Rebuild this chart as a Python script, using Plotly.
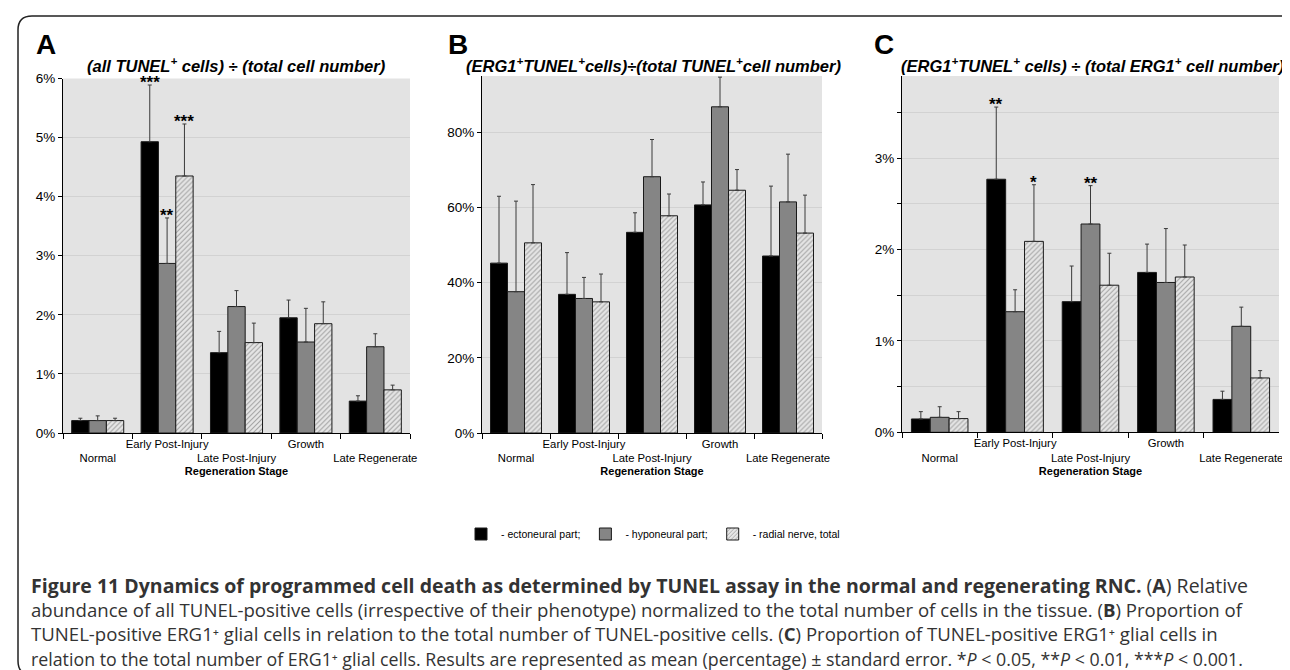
import plotly.graph_objects as go

W, H = 1290, 670

categories = ["Normal", "Early Post-Injury", "Late Post-Injury", "Growth", "Late Regenerate"]
tick_text = ["<br>Normal", "Early Post-Injury", "<br>Late Post-Injury", "Growth", "<br>Late Regenerate"]
series_names = ["- ectoneural part;", "- hyponeural part;", "- radial nerve, total"]

# Panel A: all TUNEL+ / total cells (%)
A_ecto = [0.21, 4.93, 1.36, 1.95, 0.54]
A_ecto_se = [0.04, 0.96, 0.36, 0.30, 0.09]
A_hypo = [0.21, 2.87, 2.14, 1.54, 1.46]
A_hypo_se = [0.08, 0.77, 0.27, 0.57, 0.22]
A_rad = [0.21, 4.35, 1.53, 1.85, 0.73]
A_rad_se = [0.04, 0.88, 0.33, 0.37, 0.08]

# Panel B: ERG1+TUNEL+ / total TUNEL+ (%)
B_ecto = [45.2, 36.9, 53.4, 60.7, 47.1]
B_ecto_se = [17.8, 11.1, 5.2, 6.1, 18.6]
B_hypo = [37.6, 35.8, 68.2, 86.8, 61.5]
B_hypo_se = [24.1, 5.6, 9.9, 7.9, 12.7]
B_rad = [50.6, 34.9, 57.8, 64.6, 53.2]
B_rad_se = [15.5, 7.4, 5.8, 5.5, 10.1]

# Panel C: ERG1+TUNEL+ / total ERG1+ (%)
C_ecto = [0.146, 2.77, 1.43, 1.75, 0.36]
C_ecto_se = [0.08, 0.79, 0.39, 0.31, 0.09]
C_hypo = [0.164, 1.32, 2.28, 1.64, 1.16]
C_hypo_se = [0.116, 0.24, 0.42, 0.59, 0.21]
C_rad = [0.15, 2.09, 1.61, 1.70, 0.595]
C_rad_se = [0.076, 0.62, 0.35, 0.35, 0.08]

# significance marks: (panel, category index, series index, text)
stars = [
    (0, 1, 0, "***"), (0, 1, 1, "**"), (0, 1, 2, "***"),
    (2, 1, 0, "**"), (2, 1, 2, "*"), (2, 2, 1, "**"),
]

A_yticks = [0, 1, 2, 3, 4, 5, 6]
A_ytext = ["0%", "1%", "2%", "3%", "4%", "5%", "6%"]
B_yticks = [0, 20, 40, 60, 80]
B_ytext = ["0%", "20%", "40%", "60%", "80%"]
C_yticks = [0, 0.5, 1, 1.5, 2, 2.5, 3, 3.5]
C_ytext = ["0%", "", "1%", "", "2%", "", "3%", ""]

titles = [
    "<b><i>(all TUNEL<sup>+</sup> cells) ÷ (total cell number)</i></b>",
    "<b><i>(ERG1<sup>+</sup>TUNEL<sup>+</sup>cells)÷(total TUNEL<sup>+</sup>cell number)</i></b>",
    "<b><i>(ERG1<sup>+</sup>TUNEL<sup>+</sup> cells) ÷ (total ERG1<sup>+</sup> cell number)</i></b>",
]
letters = ["A", "B", "C"]

caption_lines = [
    "<span style='font-size:19.5px'><b>Figure 11 Dynamics of programmed cell death as determined by TUNEL assay in the normal and regenerating RNC.</b> (<b>A</b>) Relative</span>",
    "abundance of all TUNEL-positive cells (irrespective of their phenotype) normalized to the total number of cells in the tissue. (<b>B</b>) Proportion of",
    "TUNEL-positive ERG1⁺ glial cells in relation to the total number of TUNEL-positive cells. (<b>C</b>) Proportion of TUNEL-positive ERG1⁺ glial cells in",
    "<span style='font-size:17.8px'>relation to the total number of ERG1⁺ glial cells. Results are represented as mean (percentage) ± standard error. *<i>P</i> &lt; 0.05, **<i>P</i> &lt; 0.01, ***<i>P</i> &lt; 0.001.</span>",
]

# ---------------- layout helpers (pixels -> paper) ----------------
def px(x):
    return x / W

def py(y):
    return 1 - y / H

panels = [
    dict(vals=[(A_ecto, A_ecto_se), (A_hypo, A_hypo_se), (A_rad, A_rad_se)],
         x0=55, x1=402, y0=70.5, y1=425, yr=[0, 6], yt=A_yticks, ytt=A_ytext,
         title_x=228, letter_x=38),
    dict(vals=[(B_ecto, B_ecto_se), (B_hypo, B_hypo_se), (B_rad, B_rad_se)],
         x0=474, x1=814, y0=68, y1=425, yr=[0, 95], yt=B_yticks, ytt=B_ytext,
         title_x=645, letter_x=450),
    dict(vals=[(C_ecto, C_ecto_se), (C_hypo, C_hypo_se), (C_rad, C_rad_se)],
         x0=894, x1=1271, y0=68, y1=424.3, yr=[0, 3.9], yt=C_yticks, ytt=C_ytext,
         title_x=1085, letter_x=876),
]

styles = [
    dict(color="#000000", pattern=None),
    dict(color="#858585", pattern=None),
    dict(color="#e6e6e6", pattern=dict(shape="/", fgcolor="#5c5c5c", bgcolor="#e6e6e6",
                                       size=3.5, solidity=0.3)),
]

FONT = "Liberation Sans, Arial, Helvetica, sans-serif"
CAP_FONT = "Open Sans, DejaVu Sans, Liberation Sans, sans-serif"
fig = go.Figure()
annotations = []

for pi, p in enumerate(panels):
    sfx = "" if pi == 0 else str(pi + 1)
    xa, ya = "x" + sfx, "y" + sfx
    for si, (vals, se) in enumerate(p["vals"]):
        st = styles[si]
        marker = dict(color=st["color"], line=dict(color="#1a1a1a", width=1))
        if st["pattern"]:
            marker["pattern"] = st["pattern"]
        fig.add_trace(go.Bar(
            x=categories, y=vals, name=series_names[si],
            marker=marker,
            error_y=dict(type="data", symmetric=False, array=se, arrayminus=[0] * len(se),
                         color="#3a3a3a", thickness=1, width=2),
            xaxis=xa, yaxis=ya, legendgroup=series_names[si], showlegend=(pi == 0),
        ))
    fig.layout["xaxis" + sfx] = dict(
        domain=[px(p["x0"]), px(p["x1"])], anchor=ya, type="category",
        tickmode="array", tickvals=categories, ticktext=tick_text, tickson="boundaries",
        tickangle=0, automargin=False,
        ticks="outside", ticklen=5, tickcolor="#000", showline=True, linecolor="#000",
        linewidth=1, showgrid=False, tickfont=dict(size=11.3, color="#000", family=FONT),
        title=dict(text="<b>Regeneration Stage</b>", font=dict(size=11, color="#000", family=FONT),
                   standoff=4),
        fixedrange=True,
    )
    fig.layout["yaxis" + sfx] = dict(
        domain=[py(p["y1"]), py(p["y0"])], anchor=xa, range=p["yr"],
        tickmode="array", tickvals=p["yt"], ticktext=p["ytt"],
        ticks="outside", ticklen=4, tickcolor="#000", showline=True, linecolor="#000",
        linewidth=1, showgrid=True, gridcolor="#d2d2d2", gridwidth=1, zeroline=False,
        tickfont=dict(size=13.5, color="#000", family=FONT), fixedrange=True, automargin=False,
    )
    # title and panel letter
    annotations.append(dict(xref="paper", yref="paper", x=px(p["title_x"]), y=py(57),
                            xanchor="center", yanchor="middle", text=titles[pi], showarrow=False,
                            font=dict(size=16.5, color="#000", family=FONT)))
    annotations.append(dict(xref="paper", yref="paper", x=px(p["letter_x"]), y=py(37),
                            xanchor="center", yanchor="middle", text="<b>" + letters[pi] + "</b>",
                            showarrow=False, font=dict(size=28, color="#000", family=FONT)))

# significance stars above error bars
for (pi, ci, si, txt) in stars:
    p = panels[pi]
    sfx = "" if pi == 0 else str(pi + 1)
    vals, se = p["vals"][si]
    cat_w = (p["x1"] - p["x0"]) / len(categories)
    bar_w = cat_w * 0.75 / 3
    annotations.append(dict(xref="x" + sfx, yref="y" + sfx, x=categories[ci],
                            y=vals[ci] + se[ci], xshift=(si - 1) * bar_w, yshift=-9,
                            xanchor="center", yanchor="bottom", text="<b>" + txt + "</b>",
                            showarrow=False, font=dict(size=17, color="#000", family=FONT)))

# caption (one text block)
annotations.append(dict(xref="paper", yref="paper", x=px(21), y=py(613), xanchor="left",
                        yanchor="middle", text="<br>".join(caption_lines), showarrow=False,
                        align="left", font=dict(size=18.6, color="#333333", family=CAP_FONT)))

# rounded outer frame
L, T, R, B, r = 10, 8, 1287, 667, 14
path = (f"M {px(L + r)},{py(T)} L {px(R - r)},{py(T)} Q {px(R)},{py(T)} {px(R)},{py(T + r)} "
        f"L {px(R)},{py(B - r)} Q {px(R)},{py(B)} {px(R - r)},{py(B)} "
        f"L {px(L + r)},{py(B)} Q {px(L)},{py(B)} {px(L)},{py(B - r)} "
        f"L {px(L)},{py(T + r)} Q {px(L)},{py(T)} {px(L + r)},{py(T)} Z")

fig.update_layout(
    width=W, height=H, margin=dict(l=0, r=0, t=0, b=0),
    paper_bgcolor="#ffffff", plot_bgcolor="#e3e3e3",
    barmode="group", bargap=0.25, bargroupgap=0,
    font=dict(family=FONT, color="#000"),
    showlegend=True,
    legend=dict(orientation="h", x=0.5, xanchor="center", y=py(526), yanchor="middle",
                font=dict(size=10.5, color="#000", family=FONT), bgcolor="rgba(0,0,0,0)",
                itemwidth=30, tracegroupgap=0),
    annotations=annotations,
    shapes=[dict(type="path", xref="paper", yref="paper", path=path,
                 line=dict(color="#222222", width=1.5))],
)

fig.write_html("out.html")
